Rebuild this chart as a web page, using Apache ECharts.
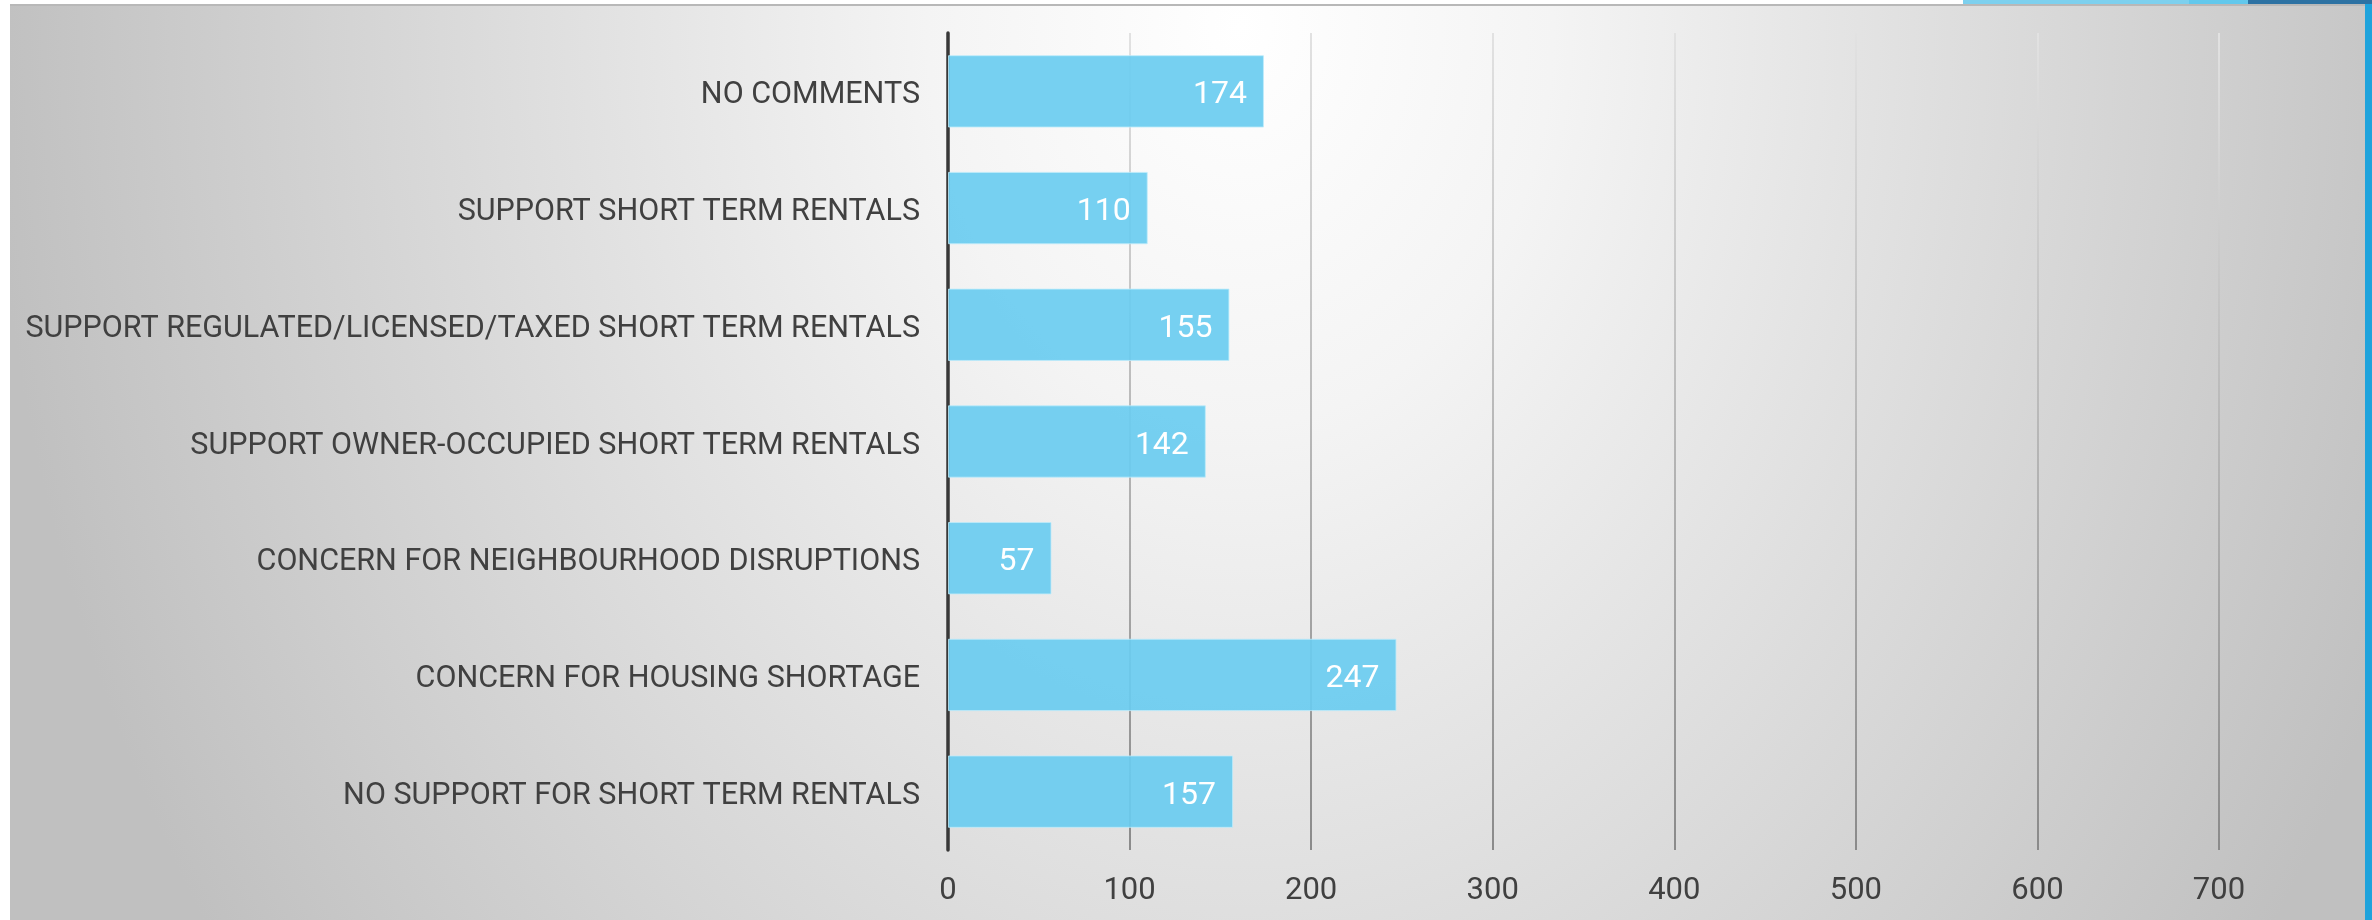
<!DOCTYPE html>
<html>
<head>
<meta charset="utf-8">
<script src="https://cdn.jsdelivr.net/npm/echarts@6/dist/echarts.min.js"></script>
<style>
  html, body { margin: 0; padding: 0; width: 2372px; height: 920px; overflow: hidden; background: #ffffff; }
  #edgeRight { position: absolute; left: 2365px; top: 0; width: 7px; height: 920px; background: #1fa3dc; }
  #stripA { position: absolute; left: 1963px; top: 0; width: 226px; height: 4px; background: #7dd0ee; }
  #stripB { position: absolute; left: 2189px; top: 0; width: 59px; height: 4px; background: #62c8ec; }
  #stripC { position: absolute; left: 2248px; top: 0; width: 124px; height: 4px; background: #2d72a3; }
  #panel {
    position: absolute; left: 10px; top: 4px; width: 2355px; height: 916px;
    border-top: 2px solid #b8b8b8; box-sizing: border-box;
    background: radial-gradient(ellipse 1250px 1600px at 1230px 20px, #ffffff 0%, #f4f4f4 25%, #c0c0c0 100%);
  }
  #chart { position: absolute; left: 0; top: 0; width: 2372px; height: 920px; }
</style>
</head>
<body>
<div id="edgeRight"></div>
<div id="stripA"></div>
<div id="stripB"></div>
<div id="stripC"></div>
<div id="panel"></div>
<div id="chart"></div>
<script>
  // bottom to top, as the axis draws them
  const categories = [
    'NO SUPPORT FOR SHORT TERM RENTALS',
    'CONCERN FOR HOUSING SHORTAGE',
    'CONCERN FOR NEIGHBOURHOOD DISRUPTIONS',
    'SUPPORT OWNER-OCCUPIED SHORT TERM RENTALS',
    'SUPPORT REGULATED/LICENSED/TAXED SHORT TERM RENTALS',
    'SUPPORT SHORT TERM RENTALS',
    'NO COMMENTS',
  ]
  const counts = [157, 247, 57, 142, 155, 110, 174]
  const tickValues = [0, 100, 200, 300, 400, 500, 600, 700]

  const chart = echarts.init(document.getElementById('chart'), null, { renderer: 'canvas' })

  const option = {
    backgroundColor: 'transparent',
    animation: false,
    grid: {
      left: 948,
      right: 153,
      top: 33,
      bottom: 70,
      containLabel: false,
    },
    xAxis: {
      type: 'value',
      min: tickValues[0],
      max: tickValues[tickValues.length - 1],
      interval: 100,
      axisLine: { show: false },
      axisTick: { show: false },
      axisLabel: {
        color: '#404040',
        fontFamily: 'Roboto',
        fontSize: 31,
        margin: 26,
      },
      splitLine: {
        show: true,
        lineStyle: {
          width: 2,
          color: new echarts.graphic.LinearGradient(0, 0, 0, 1, [
            { offset: 0, color: '#e2e2e2' },
            { offset: 1, color: '#8a8a8a' },
          ]),
        },
      },
    },
    yAxis: {
      type: 'category',
      data: categories,
      axisLine: { show: true, lineStyle: { color: '#383838', width: 3.5 } },
      axisTick: { show: false },
      axisLabel: {
        margin: 28,
        formatter: (v) => '{c|' + v + '}',
        rich: {
          c: {
            color: '#404040',
            fontFamily: 'Roboto',
            fontSize: 30.5,
            padding: [9, 0, 0, 0],
          },
        },
      },
      splitLine: { show: false },
    },
    series: [
      {
        type: 'bar',
        data: counts,
        barCategoryGap: '38%',
        itemStyle: {
          color: 'rgba(106, 204, 240, 0.92)',
          borderColor: 'rgba(190, 235, 250, 0.8)',
          borderWidth: 1,
        },
        label: {
          show: true,
          position: 'insideRight',
          distance: 17,
          offset: [0, 4],
          color: '#ffffff',
          fontFamily: 'Roboto',
          fontSize: 32,
        },
        z: 3,
      },
    ],
  }

  chart.setOption(option)
</script>
</body>
</html>
